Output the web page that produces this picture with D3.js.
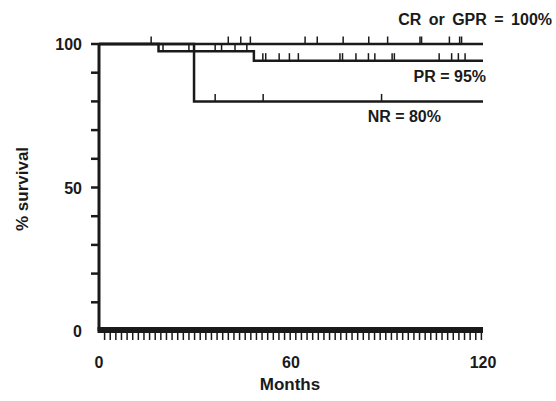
<!DOCTYPE html>
<html><head><meta charset="utf-8">
<script src="https://cdn.jsdelivr.net/npm/d3@7"></script>
<style>body{margin:0;background:#fff}text{font-family:"Liberation Sans",Arial,sans-serif;font-weight:bold;fill:#1a1a1a}</style>
</head><body><svg id="c" width="556" height="401"></svg>
<script>
// Data
const xTickLabels = [0, 60, 120];
const yTickLabels = [0, 50, 100];
const yMinorTicks = [0,10,20,30,40,50,60,70,80,90,100];
const crTimes = [0];
const crSurv = [100];
const crCensor = [16.3, 40.4, 44.3, 47.3, 64.4, 68.2, 76.3, 84.3, 90.2, 100.3, 100.8, 109.5, 112.7, 113.3];
const prTimes = [0, 18.6, 48.4];
const prSurv = [100, 97.5, 94.2];
const prCensor = [20, 28.1, 36.3, 38.3, 42.5, 46.2, 51.2, 52.1, 56.3, 59.5, 62.3, 75.3, 76.1, 80.3, 84.2, 86.2, 91.6, 92.3, 106.3, 110.2, 112.3, 114.4];
const nrTimes = [0, 29.7];
const nrSurv = [100, 80];
const nrCensor = [36.3, 51.3, 88.3];
const groupLabels = ["CR or GPR = 100%", "PR = 95%", "NR = 80%"];

const svg = d3.select("#c");
const ink = "#1a1a1a";
const x = d3.scaleLinear().domain([0,120]).range([99,483]);
const y = d3.scaleLinear().domain([0,100]).range([331,44]);

// y axis
svg.append("line").attr("x1",x(0)).attr("x2",x(0)).attr("y1",y(100)).attr("y2",y(0)).attr("stroke",ink).attr("stroke-width",3);
svg.selectAll(".yt").data(yMinorTicks.filter(d=>d>0)).enter().append("line")
  .attr("x1",91).attr("x2",x(0)).attr("y1",d=>y(d)).attr("y2",d=>y(d)).attr("stroke",ink).attr("stroke-width",2.5);
svg.selectAll(".yl").data(yTickLabels).enter().append("text")
  .attr("x",82).attr("y",d=>y(d)+6).attr("text-anchor","end").attr("font-size",16).text(d=>d);

// x axis thick bar with minor ticks
svg.append("line").attr("x1",x(0)-1.5).attr("x2",x(120)).attr("y1",y(0)-1).attr("y2",y(0)-1).attr("stroke",ink).attr("stroke-width",6);
const xMinor = d3.range(68).map(i=>1.75 + i*(119.5-1.75)/67);
svg.selectAll(".xt").data(xMinor).enter().append("line")
  .attr("x1",d=>x(d)).attr("x2",d=>x(d)).attr("y1",y(0)).attr("y2",y(0)+9).attr("stroke",ink).attr("stroke-width",1.5);
svg.selectAll(".xl").data(xTickLabels).enter().append("text")
  .attr("x",d=>x(d)).attr("y",368).attr("text-anchor","middle").attr("font-size",16).text(d=>d);

// axis titles
svg.append("text").attr("x",290).attr("y",390).attr("text-anchor","middle").attr("font-size",17).text("Months");
svg.append("text").attr("transform","translate(28,189) rotate(-90)").attr("text-anchor","middle").attr("font-size",17).text("% survival");

function curve(times, surv, censor){
  const pts = times.map((t,i)=>[t,surv[i]]);
  pts.push([120, surv[surv.length-1]]);
  const line = d3.line().x(d=>x(d[0])).y(d=>y(d[1])).curve(d3.curveStepAfter);
  svg.append("path").attr("d",line(pts)).attr("fill","none").attr("stroke",ink).attr("stroke-width",2.5);
  const sAt = t => { let s = surv[0]; times.forEach((tt,i)=>{ if (t>=tt) s = surv[i]; }); return s; };
  svg.append("g").selectAll("line").data(censor).enter().append("line")
    .attr("x1",d=>x(d)).attr("x2",d=>x(d)).attr("y1",d=>y(sAt(d))).attr("y2",d=>y(sAt(d))-7.5)
    .attr("stroke",ink).attr("stroke-width",1.5);
}
curve(nrTimes, nrSurv, nrCensor);
curve(prTimes, prSurv, prCensor);
curve(crTimes, crSurv, crCensor);

svg.append("text").attr("x",552).attr("y",25).attr("text-anchor","end").attr("font-size",16).attr("word-spacing",3).text(groupLabels[0]);
svg.append("text").attr("x",486).attr("y",82).attr("text-anchor","end").attr("font-size",16).text(groupLabels[1]);
svg.append("text").attr("x",441).attr("y",122).attr("text-anchor","end").attr("font-size",16).text(groupLabels[2]);
</script></body></html>
